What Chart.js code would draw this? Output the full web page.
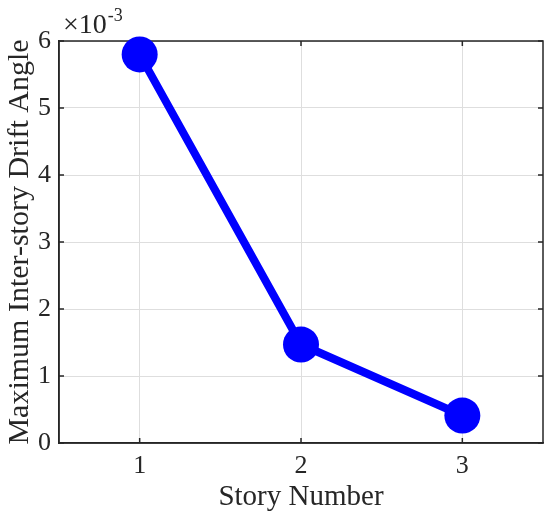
<!DOCTYPE html>
<html>
<head>
<meta charset="utf-8">
<script src="https://cdn.jsdelivr.net/npm/chart.js@4/dist/chart.umd.min.js"></script>
<style>
  html, body { margin: 0; padding: 0; background: #fff; }
  #wrap { width: 550px; height: 523px; }
</style>
</head>
<body>
<div id="wrap"><canvas id="chart" width="550" height="523"></canvas></div>
<script>
const storyNumbers = [1, 2, 3];
const driftAngle = [5.80e-3, 1.47e-3, 0.41e-3];
const yTickValues = [0, 1e-3, 2e-3, 3e-3, 4e-3, 5e-3, 6e-3];

const FONT = "'Liberation Serif', 'Times New Roman', serif";

// box, inward tick marks and the x10^-3 exponent label (MATLAB look)
const axesBox = {
  id: "axesBox",
  beforeDatasetsDraw(chart) {
    const { ctx, chartArea: a, scales } = chart;
    ctx.save();
    ctx.strokeStyle = "#262626";
    ctx.lineWidth = 1.5;
    ctx.strokeRect(a.left, a.top, a.right - a.left, a.bottom - a.top);
    ctx.beginPath();
    scales.x.ticks.forEach((t) => {
      const px = scales.x.getPixelForValue(t.value);
      ctx.moveTo(px, a.bottom); ctx.lineTo(px, a.bottom - 5);
      ctx.moveTo(px, a.top); ctx.lineTo(px, a.top + 5);
    });
    scales.y.ticks.forEach((t) => {
      const py = scales.y.getPixelForValue(t.value);
      ctx.moveTo(a.left, py); ctx.lineTo(a.left + 5, py);
      ctx.moveTo(a.right, py); ctx.lineTo(a.right - 5, py);
    });
    ctx.stroke();
    ctx.restore();
  },
  afterDraw(chart) {
    const { ctx, chartArea: a } = chart;
    ctx.save();
    ctx.fillStyle = "#262626";
    ctx.textBaseline = "alphabetic";
    ctx.textAlign = "left";
    ctx.font = "28px " + FONT;
    const base = "\u00d710";
    ctx.fillText(base, a.left + 4, 33);
    const w = ctx.measureText(base).width;
    ctx.font = "18px " + FONT;
    ctx.fillText("-3", a.left + 4 + w + 1, 21);
    ctx.restore();
  },
};

new Chart(document.getElementById("chart").getContext("2d"), {
  type: "line",
  data: {
    datasets: [
      {
        label: "Max drift",
        data: storyNumbers.map((s, i) => ({ x: s, y: driftAngle[i] })),
        borderColor: "#0000ff",
        backgroundColor: "#0000ff",
        borderWidth: 8,
        pointRadius: 18,
        pointHoverRadius: 18,
        pointBorderWidth: 0,
        pointBackgroundColor: "#0000ff",
        tension: 0,
        clip: false,
      },
    ],
  },
  options: {
    responsive: false,
    animation: false,
    events: [],
    layout: { autoPadding: false, padding: { left: 0, top: 41, right: 7, bottom: 0 } },
    plugins: { legend: { display: false }, tooltip: { enabled: false } },
    scales: {
      x: {
        type: "linear",
        min: 0.5,
        max: 3.5,
        afterBuildTicks: (s) => { s.ticks = storyNumbers.map((v) => ({ value: v })); },
        afterFit: (s) => { s.height = 80; },
        grid: { color: "#dedede", lineWidth: 1, drawTicks: false },
        border: { display: true, color: "#262626", width: 1.5 },
        ticks: {
          padding: 8,
          color: "#262626",
          font: { family: FONT, size: 26 },
          maxRotation: 0,
        },
        title: {
          display: true,
          text: "Story Number",
          color: "#262626",
          font: { family: FONT, size: 29 },
          padding: { top: 0, bottom: 8 },
        },
      },
      y: {
        type: "linear",
        min: 0,
        max: 6e-3,
        afterBuildTicks: (s) => { s.ticks = yTickValues.map((v) => ({ value: v })); },
        afterFit: (s) => { s.width = 59; },
        grid: { color: "#dedede", lineWidth: 1, drawTicks: false },
        border: { display: true, color: "#262626", width: 1.5 },
        ticks: {
          padding: 8,
          color: "#262626",
          font: { family: FONT, size: 26 },
          callback: (v) => String(Math.round(v * 1000)),
        },
        title: {
          display: true,
          text: "Maximum Inter-story Drift Angle",
          color: "#262626",
          font: { family: FONT, size: 30 },
          padding: { top: 2, bottom: 0 },
        },
      },
    },
  },
  plugins: [axesBox],
});
</script>
</body>
</html>
